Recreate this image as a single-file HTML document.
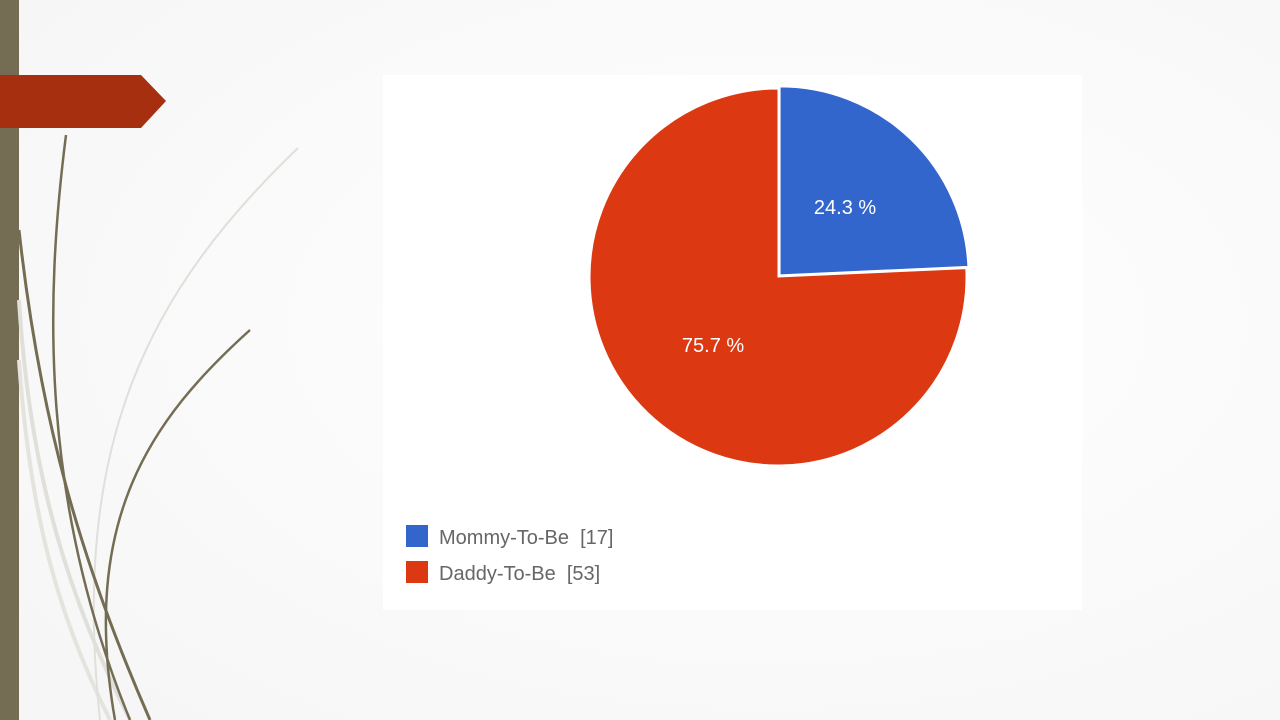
<!DOCTYPE html>
<html><head><meta charset="utf-8"><style>
html,body{margin:0;padding:0;width:1280px;height:720px;overflow:hidden;background:#f8f8f8;font-family:"Liberation Sans",sans-serif}
</style></head><body>
<svg width="1280" height="720" viewBox="0 0 1280 720">
<defs><radialGradient id="bg" cx="0.6" cy="0.45" r="0.75"><stop offset="0" stop-color="#ffffff"/><stop offset="1" stop-color="#f6f6f6"/></radialGradient></defs>
<rect width="1280" height="720" fill="url(#bg)"/>
<rect x="0" y="0" width="19" height="720" fill="#746d54"/>
<polygon points="0,75 141,75 166,101 141,128 0,128" fill="#a62f0f"/>
<g fill="none">
<path d="M19,300 C30,480 70,600 130,720" stroke="#e0dfda" stroke-width="4"/>
<path d="M19,360 C30,520 60,620 110,720" stroke="#e4e3de" stroke-width="4"/>
<path d="M298,148 C150,290 70,440 100,720" stroke="#e0dfda" stroke-width="2"/>
<path d="M19,230 C40,420 80,560 150,720" stroke="#746d54" stroke-width="3"/>
<path d="M66,135 C45,300 40,500 130,720" stroke="#746d54" stroke-width="2.5"/>
<path d="M250,330 C150,420 80,520 115,720" stroke="#746d54" stroke-width="2.5"/>
</g>
<rect x="383" y="75" width="699" height="535" fill="#ffffff"/>
<g id="pie"></g>
<g font-size="20" fill="#666">
<g><rect x="406" y="525" width="22" height="22" fill="#3366cc"/><text x="439" y="544" xml:space="preserve" style="white-space:pre">Mommy-To-Be  [17]</text></g>
<g><rect x="406" y="561" width="22" height="22" fill="#dc3912"/><text x="439" y="580" xml:space="preserve" style="white-space:pre">Daddy-To-Be  [53]</text></g>
</g>
</svg>
<script>
const categories=["Mommy-To-Be","Daddy-To-Be"];
const counts=[17,53];
const colors=["#3366cc","#dc3912"];
const offsets=[3,0];
const cx=778,cy=277,r=188;
const total=counts.reduce((a,b)=>a+b,0);
const g=document.getElementById('pie');
const NS="http://www.w3.org/2000/svg";
let a0=0;
counts.forEach((v,i)=>{
  const frac=v/total,a1=a0+frac*2*Math.PI,mid=(a0+a1)/2;
  const ox=offsets[i]*Math.sin(mid),oy=-offsets[i]*Math.cos(mid);
  const x0=cx+ox+r*Math.sin(a0),y0=cy+oy-r*Math.cos(a0);
  const x1=cx+ox+r*Math.sin(a1),y1=cy+oy-r*Math.cos(a1);
  const p=document.createElementNS(NS,'path');
  p.setAttribute('d',`M${cx+ox},${cy+oy} L${x0},${y0} A${r},${r} 0 ${frac>0.5?1:0} 1 ${x1},${y1} Z`);
  p.setAttribute('fill',colors[i]);p.setAttribute('stroke','#fff');p.setAttribute('stroke-width','1');
  
  
  g.appendChild(p);
  const t=document.createElementNS(NS,'text');
  const lr=r*0.5;
  t.setAttribute('x',cx+ox+lr*Math.sin(mid));t.setAttribute('y',cy+oy-lr*Math.cos(mid)+7);
  t.setAttribute('text-anchor','middle');t.setAttribute('fill','#fff');t.setAttribute('font-size','20');
  t.textContent=(frac*100).toFixed(1)+' %';
  
  
  g.appendChild(t);
  a0=a1;
});
</script>
</body></html>
